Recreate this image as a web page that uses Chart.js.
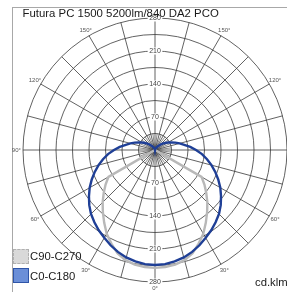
<!DOCTYPE html>
<html><head><meta charset="utf-8">
<script src="https://cdn.jsdelivr.net/npm/chart.js@4.4.1/dist/chart.umd.min.js"></script>
<style>
html,body{margin:0;padding:0;background:#fff;}
#wrap{position:relative;width:287px;height:292px;overflow:hidden;font-family:"Liberation Sans",Arial,sans-serif;}
#frame{position:absolute;left:12px;top:7px;width:300px;height:300px;border-left:1px solid #a8a8a8;border-top:1px solid #a8a8a8;}
canvas{position:absolute;left:0;top:0;}
.t{position:absolute;white-space:nowrap;color:#1a1a1a;line-height:1;}
.sw{position:absolute;box-sizing:border-box;}
</style></head>
<body><div id="wrap">
<div id="frame"></div>
<canvas id="c" width="287" height="292"></canvas>
<div class="t" id="title" style="left:22.5px;top:7.7px;font-size:11.4px;">Futura PC 1500 5200lm/840 DA2 PCO</div>
<div class="sw" style="left:13px;top:249px;width:16px;height:15px;background:#d9d9d9;border:1px dashed #b0b0b0;"></div>
<div class="t" id="lg1" style="left:30px;top:251.4px;font-size:11.3px;"></div>
<div class="sw" style="left:13px;top:268px;width:16px;height:15px;background:#6b8fd8;border:1px solid #2f55a8;"></div>
<div class="t" id="lg2" style="left:30px;top:271.1px;font-size:11.3px;"></div>
<div class="t" id="unit" style="left:255px;top:277.4px;font-size:11.3px;">cd.klm</div>
</div>
<script>
// ---- data ----
const seriesNames = ['C90-C270', 'C0-C180'];
const gammaDeg = [0,5,10,15,20,25,30,35,40,45,50,55,60,65,70,75,80,85,90,95,100,105,110,115,120,125,130,135,140,145,150,155,160,165,170,175,180];
// C0-C180 plane, cd/klm
const c0c180 = [244,243,240,236,230,223,215,208,200,192,182,171,160,148,136,124,112,100,87,75,63,54,46,38,32,26,21,16,12,9,6,4,3,2,1,0,0];
// C90-C270 plane, cd/klm
const c90c270 = [250,249,247,242,233,219,205,188,172,157,142,128,114,0,0,0,0,0,0,0,0,0,0,0,0,0,0,0,0,0,0,0,0,0,0,0,0];
const ringTicks = [70,140,210,280];
const degreeLabels = [0,30,60,90,120,150];

document.getElementById('lg1').textContent = seriesNames[0];
document.getElementById('lg2').textContent = seriesNames[1];

// radar: index 0 at the bottom (0°), 5° per index, going clockwise
const radarLabels = [];
for (let i = 0; i < 72; i++) radarLabels.push(String(i * 5));
function planeToRadar(vals) {
  const out = [];
  for (let i = 0; i < 72; i++) {
    const a = i * 5;
    const g = a <= 180 ? a : 360 - a;
    out.push(vals[gammaDeg.indexOf(g)]);
  }
  return out;
}

const gridColor = '#3a3a3a';
const polarDecor = {
  id: 'polarDecor',
  beforeDatasetsDraw(chart) {
    const s = chart.scales.r;
    const ctx = chart.ctx;
    ctx.save();
    // short intermediate spokes (every 7.5°) inside the first ring
    ctx.strokeStyle = '#3a3a3a';
    ctx.lineWidth = 0.6;
    const innerR = s.getDistanceFromCenterForValue(35);
    for (let k = 0; k < 24; k++) {
      const idx = 1.5 + k * 3;
      const p = s.getPointPosition(idx, innerR);
      ctx.beginPath();
      ctx.moveTo(s.xCenter, s.yCenter);
      ctx.lineTo(p.x, p.y);
      ctx.stroke();
    }
    ctx.textAlign = 'center';
    ctx.textBaseline = 'middle';
    ctx.font = '7px "Liberation Sans", Arial, sans-serif';
    ringTicks.forEach(v => {
      [0, 36].forEach(idx => {
        const p = s.getPointPositionForValue(idx, v);
        const txt = String(v);
        const w = ctx.measureText(txt).width;
        ctx.fillStyle = '#fff';
        ctx.fillRect(p.x - w / 2 - 1.5, p.y - 3.5, w + 3, 7);
        ctx.fillStyle = '#444';
        ctx.fillText(txt, p.x, p.y);
      });
    });
    ctx.font = '6px "Liberation Sans", Arial, sans-serif';
    ctx.fillStyle = '#555';
    degreeLabels.forEach(d => {
      const idxs = d === 0 ? [0] : [d / 5, (360 - d) / 5];
      idxs.forEach(idx => {
        const p = s.getPointPositionForValue(idx, 294);
        ctx.fillText(d + '°', p.x, p.y);
      });
    });
    ctx.restore();
  }
};

new Chart(document.getElementById('c'), {
  type: 'radar',
  data: {
    labels: radarLabels,
    datasets: [
      { label: seriesNames[1], data: planeToRadar(c0c180), borderColor: '#1f3f96', borderWidth: 2.4, pointRadius: 0, pointHoverRadius: 0, fill: false, tension: 0 },
      { label: seriesNames[0], data: planeToRadar(c90c270), borderColor: '#b8b8b8', borderWidth: 2.4, pointRadius: 0, pointHoverRadius: 0, fill: false, tension: 0 }
    ]
  },
  options: {
    responsive: false,
    animation: false,
    layout: { padding: { left: 23, right: 0, top: 18, bottom: 10 } },
    plugins: { legend: { display: false }, tooltip: { enabled: false } },
    scales: {
      r: {
        min: 0, max: 280, startAngle: 180,
        ticks: { display: false, stepSize: 35 },
        pointLabels: { display: false },
        grid: { circular: true, color: gridColor, lineWidth: 0.8 },
        angleLines: { display: true, color: gridColor, lineWidth: (ctx) => (ctx.index % 3 === 0 ? 0.8 : 0) }
      }
    }
  },
  plugins: [polarDecor]
});
</script>
</body></html>
